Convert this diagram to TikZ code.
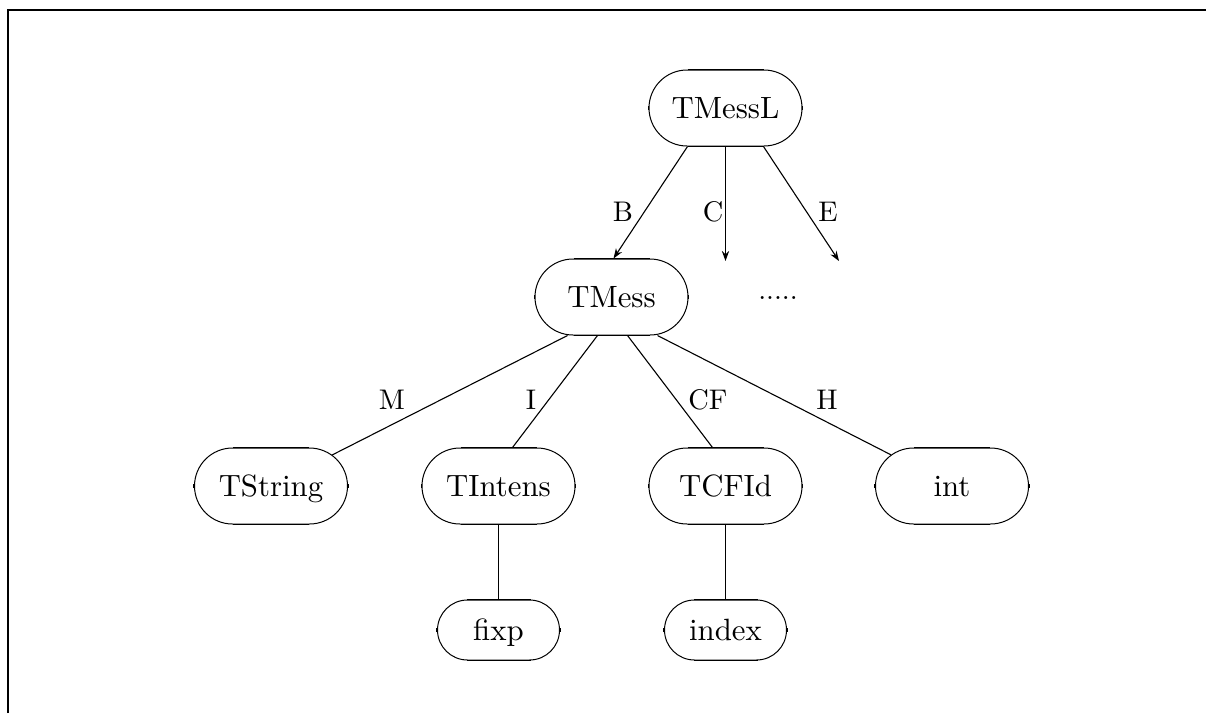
\documentclass[tikz,border=0pt]{standalone}
\usepackage{fontspec}
\setmainfont{lmroman10-regular.otf}
\usetikzlibrary{shapes.misc,arrows.meta}
\tikzset{
  tnode/.style={draw, line width=0.5pt, rounded rectangle, minimum width=76.5pt, minimum height=38pt,
    inner sep=0pt, text height=10.4pt, text depth=0pt, font=\fontsize{15.4}{18}\selectfont},
  snode/.style={tnode, minimum width=61pt, minimum height=30pt},
  lbl/.style={inner sep=0pt, font=\fontsize{14.2}{17}\selectfont},
  conn/.style={line width=0.55pt},
  vconn/.style={line width=0.9pt},
  arr/.style={line width=0.55pt, -{Stealth[length=5pt,width=3.6pt]}},
  seg/.style={line width=0.95pt}
}
\begin{document}
\begin{tikzpicture}[x=0.5pt,y=-0.5pt]
\useasboundingbox (0,0) rectangle (1206,713);
% frame
\draw[line width=1pt] (8,713) -- (8,10) -- (1206,10);
% nodes
\node[tnode] (TMessL) at (725.5,108) {TMessL};
\node[tnode] (TMess) at (611.5,297) {TMess};
\node[tnode] (TString) at (271,486) {TString};
\node[tnode] (TIntens) at (498.5,486) {TIntens};
\node[tnode] (TCFId) at (725.5,486) {TCFId};
\node[tnode] (int) at (952,486) {int};
\node[snode] (fixp) at (498.5,630) {fixp};
\node[snode] (index) at (725.5,630) {index};
\node[lbl, anchor=base] (dots) at (778,299) {.....};
% thick straight parts of the node borders
\foreach \n/\r in {TMessL/19,TMess/19,TString/19,TIntens/19,TCFId/19,int/19,fixp/16,index/16}{
  \draw[seg] ([xshift=-\r pt]\n.north) -- ([xshift=\r pt]\n.north);
  \draw[seg] ([xshift=-\r pt]\n.south) -- ([xshift=\r pt]\n.south);
  \draw[seg] ([yshift=-1.2pt]\n.west) -- ([yshift=1.2pt]\n.west);
  \draw[seg] ([yshift=-1.2pt]\n.east) -- ([yshift=1.2pt]\n.east);
}
% free ends of the arrows
\coordinate (cEnd) at (725.5,261);
\coordinate (eEnd) at (839,261);
% arrows from TMessL
\draw[arr] ([xshift=-19pt]TMessL.south) -- ([xshift=1pt]TMess.north);
\draw[arr, line width=0.9pt] (TMessL.south) -- (cEnd);
\draw[arr] ([xshift=19pt]TMessL.south) -- (eEnd);
% connectors from TMess
\draw[conn] ([xshift=-22pt]TMess.south) -- (TString);
\draw[conn] ([xshift=-7pt]TMess.south) -- ([xshift=7pt]TIntens.north);
\draw[conn] ([xshift=8pt]TMess.south) -- ([xshift=-6.5pt]TCFId.north);
\draw[conn] ([xshift=23pt]TMess.south) -- (int);
% vertical connectors
\draw[vconn] (TIntens.south) -- (fixp.north);
\draw[vconn] (TCFId.south) -- (index.north);
% labels
\node[lbl] (lB) at (623,212) {B};
\node[lbl] (lC) at (713,212) {C};
\node[lbl] (lE) at (828,212) {E};
\node[lbl] (lM) at (392,400) {M};
\node[lbl] (lI) at (531,400) {I};
\node[lbl] (lCF) at (708,400) {CF};
\node[lbl] (lH) at (827,400) {H};
\end{tikzpicture}
\end{document}
